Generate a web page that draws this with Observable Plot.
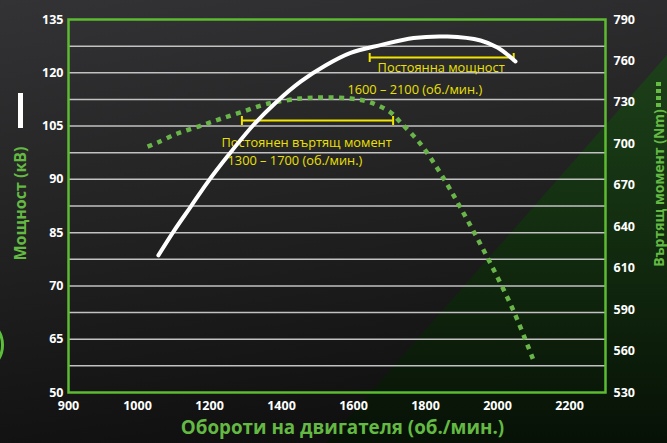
<!DOCTYPE html>
<html><head><meta charset="utf-8">
<script src="https://cdn.jsdelivr.net/npm/d3@7"></script>
<script src="https://cdn.jsdelivr.net/npm/@observablehq/plot@0.6"></script>
<style>
html,body{margin:0;padding:0;background:#0b0b0b;}
#wrap{position:relative;width:667px;height:443px;overflow:hidden;background:linear-gradient(172deg,#333335 0%,#222223 45%,#0b0b0b 100%);}
#green{position:absolute;left:0;top:0;width:667px;height:443px;clip-path:polygon(326px 443px,667px 55px,667px 443px);background:linear-gradient(to bottom,#21461d 0%,#143111 45%,#071106 100%);}
#ring{position:absolute;left:-54px;top:316px;width:52px;height:52px;border:3px solid #5cbf3a;border-radius:50%;}
#pbar{position:absolute;left:18px;top:93px;width:4.5px;height:35px;background:#fff;}
#tdots{position:absolute;left:656px;top:82px;width:5px;height:26px;background:repeating-linear-gradient(to bottom,#66bb44 0 4px,transparent 4px 7px);}
#chart{position:absolute;left:0;top:0;}
#chart svg text{font-family:"Open Sans",sans-serif;}
</style></head>
<body><div id="wrap"><div id="green"></div><div id="ring"></div><div id="chart"></div><div id="pbar"></div><div id="tdots"></div></div>
<script>
// ---- data ----
const xTicks = [900, 1000, 1200, 1400, 1600, 1800, 2000, 2200];
const powerTicks = [50, 65, 70, 85, 90, 105, 120, 135];
const torqueTicks = [530, 560, 590, 610, 640, 670, 700, 730, 760, 790];
const powerRpm = [1058, 1100, 1147, 1194, 1250, 1322, 1386, 1453, 1522, 1592, 1675, 1767, 1861, 1953, 2000, 2050];
const powerKw  = [78.6, 85.1, 87.4, 89.7, 96.5, 105.3, 111.8, 117.5, 122.05, 125.6, 127.8, 129.8, 130.2, 129.1, 127.1, 123.2];
const torqueRpm = [1028, 1056, 1111, 1169, 1225, 1286, 1364, 1453, 1522, 1592, 1647, 1703, 1731, 1786, 1842, 1897, 1972, 2044, 2100];
const torqueNm  = [698, 701, 707.5, 712.5, 717.6, 722.7, 729.2, 732.8, 733.5, 732.8, 730, 722.7, 715.4, 700, 678.5, 653.9, 617.7, 589.4, 553.2];
const powerBandRpm = [1645, 2045];
const powerBandKw = 124.3;
const torqueBandRpm = [1290, 1710];
const torqueBandNm = 716.9;
const powerBandText = ["Постоянна мощност", "1600 – 2100 (об./мин.)"];
const torqueBandText = ["Постоянен въртящ момент", "1300 – 1700 (об./мин.)"];
const xTitle = "Обороти на двигателя (об./мин.)";
const yTitle = "Мощност (кВ)";
const y2Title = "Въртящ момент (Nm)";

// ---- layout ----
const W = 667, H = 443, mL = 68, mR = 62, mT = 19, mB = 51;
const yBot = H - mB, yTop = mT;
const GREEN = "#64b943", FRAME = "#5cbb30", YEL = "#f0e400", YELT = "#ece000";

const fracToPower = d3.scaleLinear().domain(powerTicks.map((_, i) => i / (powerTicks.length - 1))).range(powerTicks);
const torqueToFrac = d3.scaleLinear().domain(torqueTicks).range(torqueTicks.map((_, i) => i / (torqueTicks.length - 1)));
const t2p = t => fracToPower(torqueToFrac(t));
const p2t = p => torqueToFrac.invert(fracToPower.invert(p));
const gridVals = d3.range(1, 14).map(k => fracToPower(k / 14));

const powerData = powerRpm.map((r, i) => ({rpm: r, v: powerKw[i]}));
const torqueData = torqueRpm.map((r, i) => ({rpm: r, v: t2p(torqueNm[i])}));
const tY = t2p(torqueBandNm);
const bands = [
  {x1: powerBandRpm[0], x2: powerBandRpm[1], y: powerBandKw},
  {x1: torqueBandRpm[0], x2: torqueBandRpm[1], y: tY}
];
const ends = bands.flatMap(b => [{x: b.x1, y: b.y}, {x: b.x2, y: b.y}]);
const vtick = {draw(ctx) { ctx.moveTo(0, -4.5); ctx.lineTo(0, 4.5); }};

const axisFont = {fill: "#fff", fontSize: 12.5, fontWeight: "bold", label: null, tickSize: 0};
const annFont = {fill: YELT, fontSize: 12.8, fontFamily: "Roboto", textAnchor: "start", lineAnchor: "bottom"};

const chart = Plot.plot({
  width: W, height: H,
  marginLeft: mL, marginRight: mR, marginTop: mT, marginBottom: mB,
  style: {background: "transparent", color: "#fff", overflow: "visible"},
  x: {type: "linear", domain: [900, 1000, 2300], range: [mL, 137, W - mR], axis: null},
  y: {type: "linear", domain: powerTicks, range: powerTicks.map((_, i) => yBot - i * (yBot - yTop) / (powerTicks.length - 1)), axis: null},
  marks: [
    Plot.gridY(gridVals, {stroke: "#c2c2c2", strokeOpacity: 1, strokeWidth: 1.5}),
    Plot.frame({stroke: FRAME, strokeWidth: 2.5}),
    Plot.axisY(powerTicks, {...axisFont, anchor: "left", tickPadding: 5, tickFormat: "d"}),
    Plot.axisY(torqueTicks.map(t2p), {...axisFont, anchor: "right", tickPadding: 8, tickFormat: p => String(Math.round(p2t(p)))}),
    Plot.axisX(xTicks, {...axisFont, anchor: "bottom", tickPadding: 9, tickFormat: "d"}),
    Plot.ruleY(bands, {y: "y", x1: "x1", x2: "x2", stroke: YEL, strokeWidth: 2}),
    Plot.dot(ends, {x: "x", y: "y", symbol: vtick, stroke: YEL, strokeWidth: 2}),
    Plot.text([powerBandText[0]], {...annFont, text: d => d, x: 1667, y: 120.2}),
    Plot.text([powerBandText[1]], {...annFont, text: d => d, x: 1583, y: 113.9}),
    Plot.text([torqueBandText[0]], {...annFont, text: d => d, x: 1233, y: 98.97}),
    Plot.text([torqueBandText[1]], {...annFont, text: d => d, x: 1250, y: 94.05}),
    Plot.line(torqueData, {x: "rpm", y: "v", stroke: "#6ab54a", strokeWidth: 4.5, strokeDasharray: "5,5.5", strokeLinecap: "butt", curve: "catmull-rom"}),
    Plot.line(powerData, {x: "rpm", y: "v", stroke: "#fff", strokeWidth: 4, strokeLinecap: "round", curve: "catmull-rom"}),
    Plot.text([xTitle], {text: d => d, frameAnchor: "bottom", textAnchor: "middle", dx: 5.5, dy: 41, fill: GREEN, fontSize: 18.8, fontWeight: "bold"}),
    Plot.text([yTitle], {text: d => d, frameAnchor: "left", textAnchor: "middle", dx: -47.5, dy: -2.5, rotate: -90, fill: GREEN, fontSize: 16, fontWeight: "bold"}),
    Plot.text([y2Title], {text: d => d, frameAnchor: "right", textAnchor: "middle", dx: 54, dy: -18, rotate: -90, fill: GREEN, fontSize: 14, fontWeight: "bold"})
  ]
});
document.getElementById("chart").appendChild(chart);
</script>
</body></html>
